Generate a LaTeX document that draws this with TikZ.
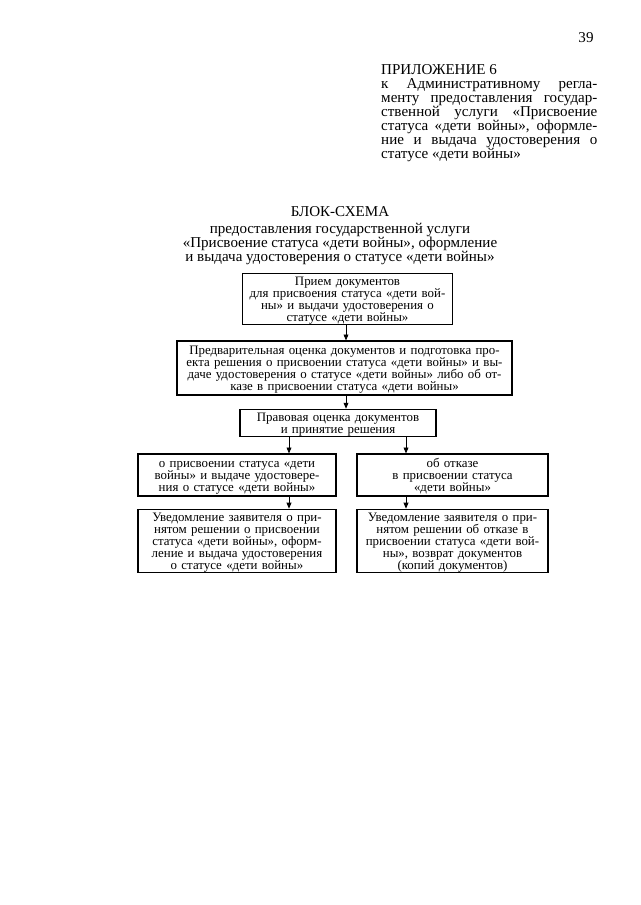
\documentclass[tikz,border=0pt]{standalone}
\usepackage{fontspec}
\setmainfont{Liberation Serif}
\usetikzlibrary{arrows.meta}

\newcommand\boxfont{\fontsize{12}{11.2}\selectfont\lineskiplimit-100pt\relax}

\begin{document}
\begin{tikzpicture}[x = 0.9297pt, y = -0.9297pt,
    box/.style = {draw, line width = 1.1pt, align = center, inner xsep = 1pt, inner ysep = 0pt,
      text height = 11pt, font = \boxfont},
    big/.style = {font = \fontsize{14}{13}\selectfont, inner sep = 0pt},
    arr/.style = {-{Triangle[length = 5.5pt, width = 4.5pt]}, line width = 0.7pt}]

      \fill [white] (0, 0) rectangle (640, 905);

      \node[big] (page) at (586, 38) {39};
      \node[big, anchor = north west, text width = 201pt, align = justify] (app) at (381, 64) {ПРИЛОЖЕНИЕ 6\\
        к Административному регла-\linebreak
        менту предоставления государ-\linebreak
        ственной услуги «Присвоение\linebreak
        статуса «дети войны», оформле-\linebreak
        ние и выдача удостоверения о\linebreak
        статусе «дети войны»};

      \node[big] (title) at (340, 212) {БЛОК-СХЕМА};
      \node[big, align = center, anchor = north] (subtitle) at (340, 223) {предоставления государственной услуги\\
        «Присвоение статуса «дети войны», оформление\\
        и выдача удостоверения о статусе «дети войны»};

      \node[box, text width = 193.2pt, text depth = 36.9pt] (priem) at (347.5, 299) {Прием документов\\
        для присвоения статуса «дети вой-\\
        ны» и выдачи удостоверения о\\
        статусе «дети войны»};
      \node[box, text width = 309.4pt, text depth = 36.9pt, minimum height = 50.2pt] (predv) at (344.5, 368) {Предварительная оценка документов и подготовка про-\\
        екта решения о присвоении статуса «дети войны» и вы-\\
        даче удостоверения о статусе «дети войны» либо об от-\\
        казе в присвоении статуса «дети войны»};
      \node[box, text width = 180.2pt, text depth = 14.5pt] (pravo) at (338, 423) {Правовая оценка документов\\
        и принятие решения};
      \node[box, text width = 182pt, text depth = 25.7pt, minimum height = 39pt] (prisv) at (237, 475) {о присвоении статуса «дети\\
        войны» и выдаче удостовере-\\
        ния о статусе «дети войны»};
      \node[box, text width = 175.6pt, text depth = 25.7pt, minimum height = 39pt] (otkaz) at (452.5, 475) {об отказе\\
        в присвоении статуса\\
        «дети войны»};
      \node[box, text width = 182pt, text depth = 48.1pt] (uvedP) at (237, 541) {Уведомление заявителя о при-\\
        нятом решении о присвоении\\
        статуса «дети войны», оформ-\\
        ление и выдача удостоверения\\
        о статусе «дети войны»};
      \node[box, text width = 175.6pt, text depth = 48.1pt] (uvedO) at (452.5, 541) {Уведомление заявителя о при-\\
        нятом решении об отказе в\\
        присвоении статуса «дети вой-\\
        ны», возврат документов\\
        (копий документов)};

      \coordinate (mx) at (346, 0);
      \coordinate (lx) at (289, 0);
      \coordinate (rx) at (406, 0);

      \draw[arr] (priem.south -| mx) -- (predv.north -| mx);
      \draw[arr] (predv.south -| mx) -- (pravo.north -| mx);
      \draw[arr] (pravo.south -| lx) -- (prisv.north -| lx);
      \draw[arr] (pravo.south -| rx) -- (otkaz.north -| rx);
      \draw[arr] (prisv.south -| lx) -- (uvedP.north -| lx);
      \draw[arr] (otkaz.south -| rx) -- (uvedO.north -| rx);

    \end{tikzpicture}
\end{document}
